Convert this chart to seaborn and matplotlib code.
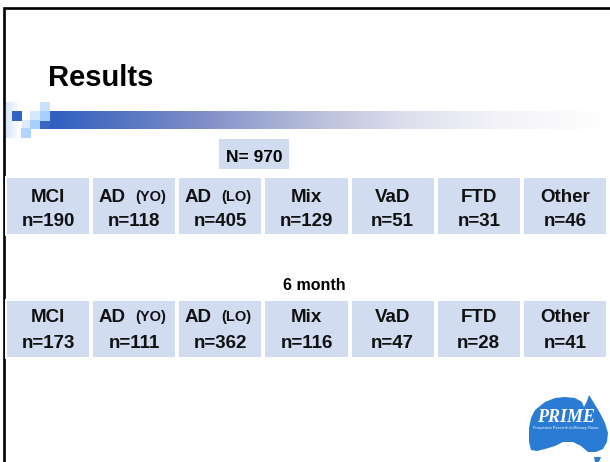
import numpy as np
import matplotlib
matplotlib.use("Agg")
import matplotlib.pyplot as plt
from matplotlib.colors import ListedColormap, LinearSegmentedColormap
from matplotlib.patches import Rectangle, Polygon
import seaborn as sns

# ---------------- data ----------------
title = "Results"
total_label = "N= 970"
followup_label = "6 month"
categories = ["MCI", "AD", "AD", "Mix", "VaD", "FTD", "Other"]
qualifiers = ["", "(YO)", "(LO)", "", "", "", ""]
baseline_n = [190, 118, 405, 129, 51, 31, 46]
month6_n = [173, 111, 362, 116, 47, 28, 41]

# ---------------- style ----------------
sns.set_theme(style="white")
plt.rcParams['font.family'] = ['Liberation Sans', 'DejaVu Sans']

W, H = 610, 462
CELL = "#D1DCF1"
fig = plt.figure(figsize=(6.1, 4.62), dpi=100)
fig.patch.set_facecolor("white")

bg = fig.add_axes([0, 0, 1, 1])
bg.axis("off")


def px_axes(x0, y0, x1, y1, **kw):
    return fig.add_axes([x0 / W, 1 - y1 / H, (x1 - x0) / W, (y1 - y0) / H], **kw)


# slide border (left & top)
bg.plot([4, 4, W + 2], [H + 2, 8, 8], color="black", lw=1.9,
        solid_joinstyle="miter", solid_capstyle="projecting")

# title bar gradient
grad = LinearSegmentedColormap.from_list(
    "bar", [(0.0, "#2F5FC0"), (0.09, "#4A6EC0"), (0.27, "#7F8EC8"),
            (0.45, "#B3BAD8"), (0.63, "#DCDEEC"), (0.80, "#F3F3F8"),
            (1.0, "#FFFFFF")])
bg.imshow(np.linspace(0, 1, 256)[None, :], extent=(50, 610, 129, 111),
          cmap=grad, aspect="auto", zorder=1)
fade = LinearSegmentedColormap.from_list("fade", ["#D6E6FB", "#FFFFFF"])
bg.imshow(np.linspace(0, 1, 64)[None, :], extent=(6, 20, 138, 102),
          cmap=fade, aspect="auto", zorder=1)
squares = [
    (12, 111, 10, 10, "#3162C4"),
    (22, 120, 9, 9, "#DCEBFF"),
    (21, 128, 10, 10, "#B2D5FF"),
    (30, 111, 10, 9, "#D5E6FF"),
    (30, 120, 10, 9, "#A9CFFF"),
    (40, 102, 10, 9, "#C9E1FF"),
    (40, 111, 10, 10, "#A9CFFF"),
    (40, 121, 10, 8, "#3A66C2"),
]
for x, y, w, h, c in squares:
    bg.add_patch(Rectangle((x, y), w, h, facecolor=c, edgecolor="none", zorder=2))

# N box
bg.add_patch(Rectangle((219, 139), 70, 30, facecolor=CELL, edgecolor="none", zorder=2))

# logo (decorative outline of Australia)
logo_pts = [(535, 410), (545, 402), (555, 398), (565, 397), (575, 398),
            (582, 402), (584, 407), (587, 401), (589, 395), (594, 403),
            (600, 413), (605, 423), (608, 433), (607, 442), (603, 449),
            (596, 452), (588, 452), (581, 446), (573, 442), (563, 442),
            (555, 446), (545, 449), (537, 451), (531, 450), (529, 442),
            (529, 428), (531, 418)]
bg.add_patch(Polygon(logo_pts, closed=True, facecolor="#2A7BD3",
                     edgecolor="none", zorder=2))
bg.add_patch(Polygon([(594, 457), (601, 457), (599, 462), (595, 462)],
                     closed=True, facecolor="#2A7BD3", edgecolor="none", zorder=2))
bg.text(566, 422, "PRIME", color="white", fontsize=13, fontstyle="italic",
        fontweight="bold", family=["Liberation Serif", "DejaVu Serif"],
        ha="center", va="baseline", zorder=3)
bg.text(566, 428, "Prospective Research In Memory Clinics", color="white",
        fontsize=2.6, ha="center", va="center", zorder=3)

bg.set_xlim(0, W)
bg.set_ylim(H, 0)

# ---------------- cell rows (seaborn heatmaps) ----------------
rows = [(baseline_n, 176, 236), (month6_n, 299, 359)]
for vals, y0, y1 in rows:
    hax = px_axes(5, y0, 608, y1)
    sns.heatmap(np.array(vals, dtype=float)[None, :], ax=hax,
                cmap=ListedColormap([CELL]), cbar=False,
                linewidths=4 * 72 / 100, linecolor="white",
                xticklabels=False, yticklabels=False)
    hax.axis("off")

# ---------------- text overlay ----------------
ov = fig.add_axes([0, 0, 1, 1], zorder=10)
ov.set_facecolor("none")
ov.axis("off")
ov.set_xlim(0, W)
ov.set_ylim(H, 0)

ov.text(48, 86.5, title, fontsize=21, fontweight="bold", ha="left",
        va="baseline", color="black")
ov.text(254, 161.5, total_label, fontsize=12.5, fontweight="bold",
        ha="center", va="baseline", color="black")
ov.text(314, 290, followup_label, fontsize=11.5, fontweight="bold",
        ha="center", va="baseline", color="black")

pitch = 603 / 7
line_base = [(201.5, 226.5), (321.5, 348)]
for (vals, _, _), (b1, b2) in zip(rows, line_base):
    for i, (cat, q, n) in enumerate(zip(categories, qualifiers, vals)):
        cx = 5 + (i + 0.5) * pitch
        if q:
            ov.text(cx - 9, b1, cat, fontsize=13.5, fontweight="bold",
                    ha="right", va="baseline", color="#111111")
            ov.text(cx + 1, b1, q, fontsize=10.5, fontweight="bold",
                    ha="left", va="baseline", color="#111111")
        else:
            ov.text(cx, b1, cat, fontsize=13.5, fontweight="bold",
                    ha="center", va="baseline", color="#111111")
        ov.text(cx, b2, f"n={n}", fontsize=13.5, fontweight="bold",
                ha="center", va="baseline", color="#111111")

fig.savefig("out.png", dpi=100, facecolor="white")
